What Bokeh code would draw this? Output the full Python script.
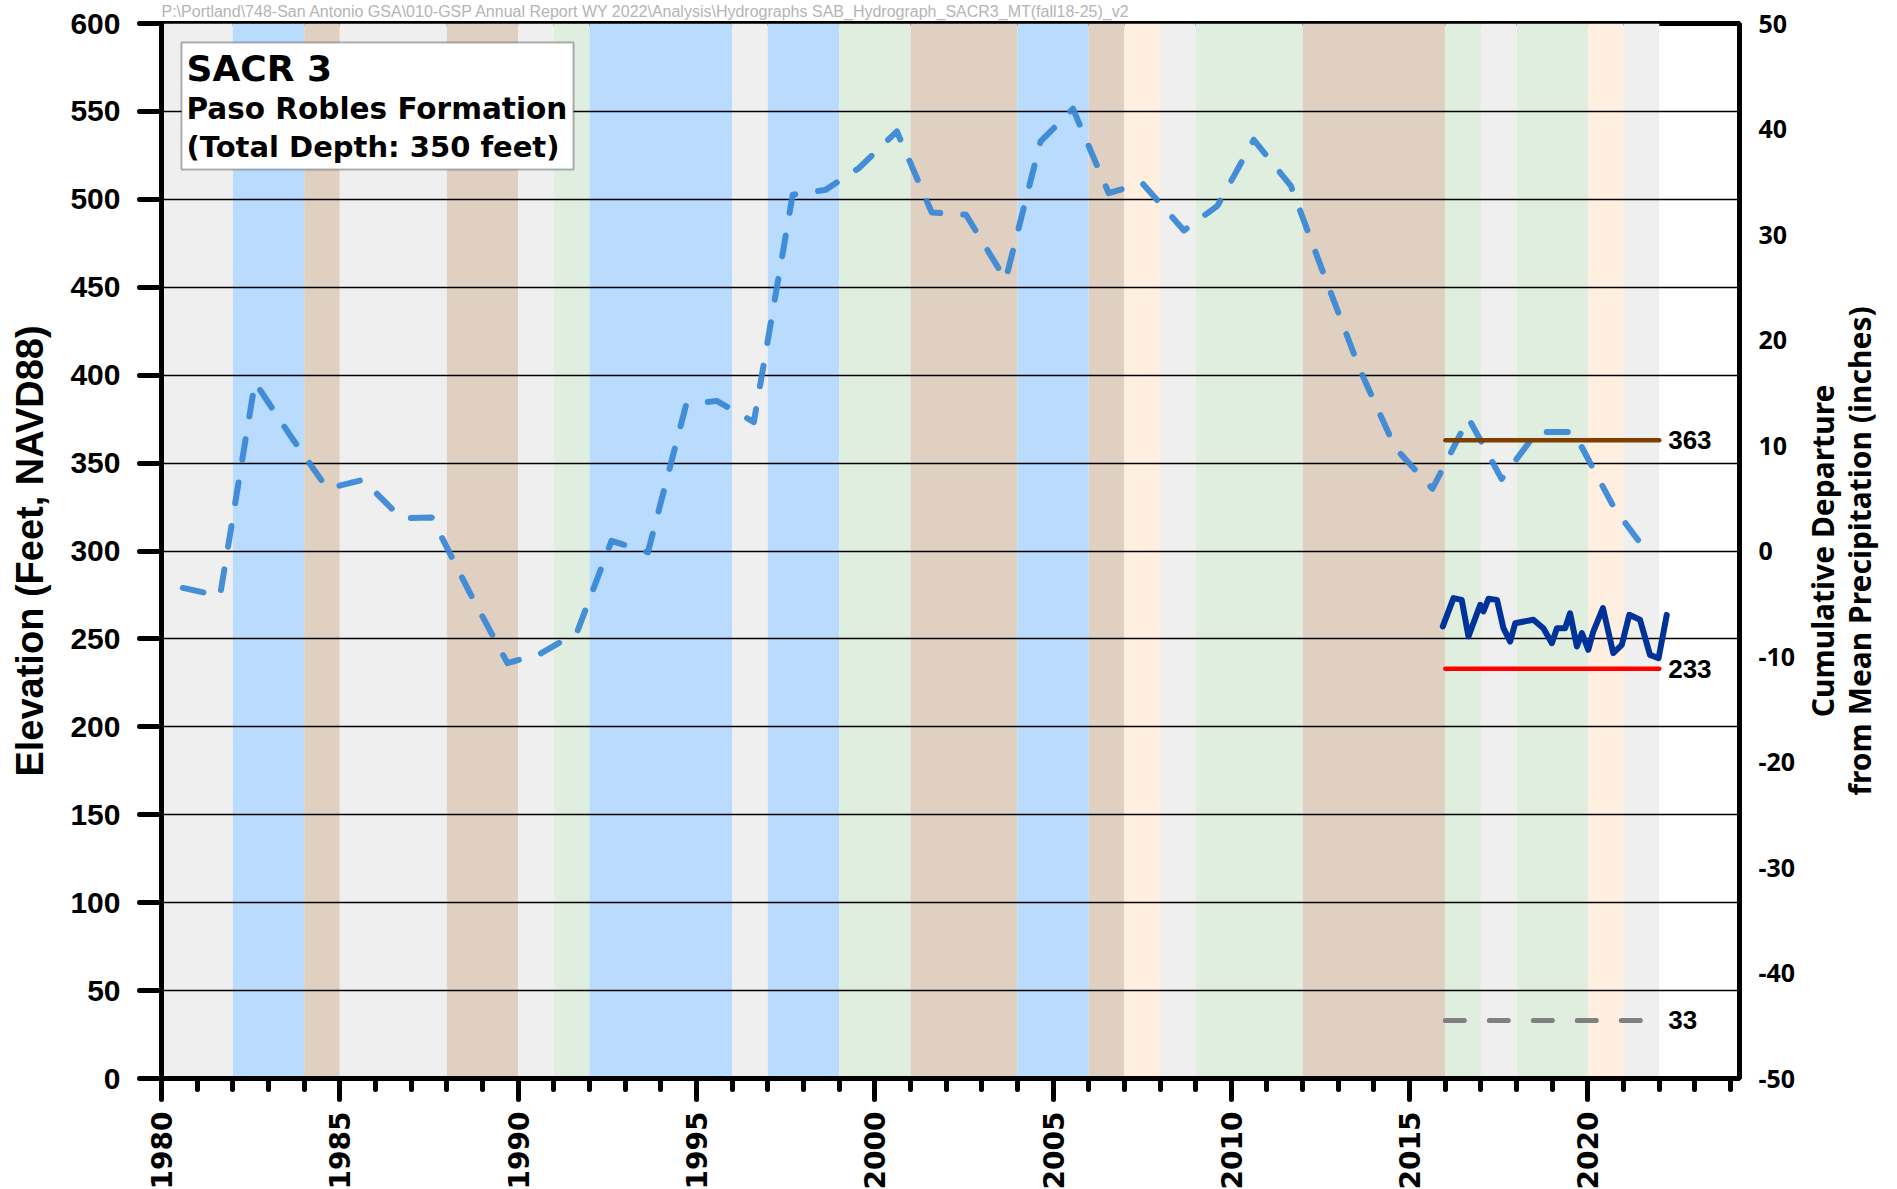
import math
from bokeh.plotting import figure
from bokeh.layouts import row
from bokeh.models import (Range1d, LinearAxis, SingleIntervalTicker, BoxAnnotation, Label, Title,
                          PrintfTickFormatter, FixedTicker)
from bokeh.core.properties import value
from bokeh.embed import file_html
from bokeh.resources import INLINE

# ---------------- data ----------------
# water-year type background bands
band_start = [1980, 1982, 1984, 1985, 1988, 1990, 1991, 1992, 1996, 1997, 1999, 2001,
              2004, 2006, 2007, 2008, 2009, 2012, 2016, 2017, 2018, 2020, 2021]
band_end = [1982, 1984, 1985, 1988, 1990, 1991, 1992, 1996, 1997, 1999, 2001, 2004,
            2006, 2007, 2008, 2009, 2012, 2016, 2017, 2018, 2020, 2021, 2022]
band_type = ["below", "wet", "dry", "below", "dry", "below", "above", "wet", "below", "wet",
             "above", "dry", "wet", "dry", "critical", "below", "above", "dry", "above",
             "below", "above", "critical", "below"]

# cumulative departure from mean precipitation (inches, right axis)
cd_years = [1980.60, 1981.64, 1982.62, 1983.60, 1984.65, 1985.65, 1986.72, 1987.58, 1988.60,
            1989.70, 1990.60, 1991.65, 1992.62, 1993.64, 1994.71, 1995.57, 1996.61, 1997.70,
            1998.62, 1999.55, 2000.62, 2001.60, 2002.56, 2003.67, 2004.65, 2005.56, 2006.56,
            2007.50, 2008.67, 2009.61, 2010.63, 2011.67, 2012.60, 2013.60, 2014.60, 2015.64,
            2016.65, 2017.58, 2018.57, 2019.60, 2020.75, 2021.45]
cd_inches = [-3.5, -4.27, 16.0, 11.0, 5.9, 6.75, 3.12, 3.17, -3.67,
             -10.63, -9.78, -7.73, 0.97, -0.12, 13.85, 14.23, 12.22, 33.77,
             34.23, 36.28, 39.77, 32.08, 31.87, 25.7, 38.82, 41.92, 33.92,
             34.87, 30.38, 32.72, 38.98, 34.6, 26.17, 17.23, 9.75, 5.9,
             12.58, 6.83, 11.28, 11.28, 4.0, 0.83]

# measured groundwater elevation (feet NAVD88)
gw_years = [2015.93, 2016.23, 2016.46, 2016.65, 2016.98, 2017.07, 2017.21, 2017.45, 2017.63,
            2017.82, 2017.96, 2018.47, 2018.75, 2018.99, 2019.13, 2019.36, 2019.50, 2019.69,
            2019.83, 2020.01, 2020.15, 2020.42, 2020.71, 2020.95, 2021.16, 2021.46, 2021.74,
            2021.98, 2022.21]
gw_elev = [257.1, 273.2, 272.2, 251.4, 269.4, 265.6, 272.8, 272.2, 256.1,
           248.5, 258.9, 260.9, 256.1, 247.6, 256.1, 256.1, 264.6, 245.7,
           253.3, 243.8, 254.2, 267.5, 241.9, 246.6, 263.7, 260.9, 240.9,
           239.0, 263.7]

# thresholds (feet) shown for 2016-2022
threshold_values = [363, 233, 33]
threshold_start = [2016, 2016, 2016]
threshold_end = [2022, 2022, 2022]
threshold_labels = ["363", "233", "33"]

title_lines = ["SACR 3", "Paso Robles Formation", "(Total Depth: 350 feet)"]
path_text = ("P:\\Portland\\748-San Antonio GSA\\010-GSP Annual Report WY 2022\\Analysis\\"
             "Hydrographs SAB_Hydrograph_SACR3_MT(fall18-25)_v2")
right_title = "Cumulative Departure\nfrom Mean Precipitation (inches)"

# ---------------- layout ----------------
X_START, X_END = 1980, 2024.25
Y_START, Y_END = 0, 600
P_START, P_END = -50, 50
FRAME_W, FRAME_H = 1578, 1055
BORDER_L, BORDER_R, BORDER_T, BORDER_B = 161, 58, 22, 110
PAGE_MARGIN = 0


def page_x(px):
    return X_START + (px - PAGE_MARGIN - BORDER_L) * (X_END - X_START) / FRAME_W


def page_y(py):
    return Y_END - (py - PAGE_MARGIN - BORDER_T) * (Y_END - Y_START) / FRAME_H


band_colors = {"below": "#EFEFEF", "wet": "#B9DBFE", "dry": "#E0D0C1",
               "above": "#E0EEE0", "critical": "#FFEFE0"}

p = figure(frame_width=FRAME_W, frame_height=FRAME_H,
           x_range=Range1d(X_START, X_END), y_range=Range1d(Y_START, Y_END),
           output_backend="svg", toolbar_location=None,
           min_border_left=BORDER_L, min_border_right=BORDER_R,
           min_border_top=BORDER_T, min_border_bottom=BORDER_B)
p.extra_y_ranges = {"precip": Range1d(P_START, P_END)}
p.background_fill_color = "white"
p.border_fill_color = "white"
p.outline_line_color = "black"
p.outline_line_width = 5

# header path as a title above the frame
p.add_layout(Title(text=path_text, align="left", vertical_align="top", text_font="Liberation Sans",
                   text_font_style="normal", text_font_size="16px", text_color="#B4B4B4",
                   standoff=4, offset=0), "above")

# bands
p.quad(left=band_start, right=band_end, bottom=Y_START, top=Y_END,
       fill_color=[band_colors[t] for t in band_type], line_color=None, level="image")

# grid
ytick = SingleIntervalTicker(interval=50, num_minor_ticks=0)
p.ygrid.ticker = ytick
p.ygrid.grid_line_color = "black"
p.ygrid.grid_line_width = 1.6
p.xgrid.visible = False

# cumulative departure (dashed)
p.line(cd_years, cd_inches, y_range_name="precip", line_color="#3685D6", line_alpha=0.92,
       line_width=6, line_dash="21 23", line_cap="round", line_join="round")

# thresholds
p.segment(x0=threshold_start[:1], x1=threshold_end[:1], y0=threshold_values[:1], y1=threshold_values[:1],
          line_color="#7F3F00", line_width=4.5, line_cap="round")
p.segment(x0=threshold_start[1:2], x1=threshold_end[1:2], y0=threshold_values[1:2], y1=threshold_values[1:2],
          line_color="#FF0000", line_width=4.5, line_cap="round")
p.segment(x0=threshold_start[2:], x1=threshold_end[2:], y0=threshold_values[2:], y1=threshold_values[2:],
          line_color="#808080", line_width=5, line_cap="round", line_dash="19 25")

# measured groundwater
p.line(gw_years, gw_elev, line_color="#003399", line_width=6, line_join="round", line_cap="round")

# threshold labels
p.text(x=[t + 0.25 for t in threshold_end], y=threshold_values, text=threshold_labels,
       text_font=value("Liberation Sans"), text_font_style="bold", text_font_size="26px",
       text_baseline="middle", text_align="left", text_color="black")

# axes
xa = p.xaxis[0]
xa.ticker = SingleIntervalTicker(interval=5, num_minor_ticks=5)
xa.major_tick_out = 21
xa.major_tick_in = 0
xa.minor_tick_out = 11
xa.minor_tick_in = 0
xa.major_tick_line_width = 5
xa.minor_tick_line_width = 5
xa.major_tick_line_cap = "round"
xa.minor_tick_line_cap = "round"
xa.axis_line_width = 5
xa.major_label_orientation = math.pi / 2
xa.major_label_text_font = "DejaVu Sans"
xa.major_label_text_font_style = "bold"
xa.major_label_text_font_size = "28px"
xa.major_label_text_color = "black"
xa.major_label_standoff = 12

ya = p.yaxis[0]
ya.ticker = ytick
ya.major_tick_out = 22
ya.major_tick_in = 0
ya.minor_tick_out = 0
ya.minor_tick_in = 0
ya.major_tick_line_width = 5
ya.major_tick_line_cap = "round"
ya.axis_line_width = 5
ya.major_label_text_font = "Liberation Sans"
ya.major_label_text_font_style = "bold"
ya.major_label_text_font_size = "30px"
ya.major_label_text_color = "black"
ya.major_label_standoff = 19
ya.axis_label = "Elevation (Feet, NAVD88)"
ya.axis_label_text_font = "Liberation Sans"
ya.axis_label_text_font_style = "bold"
ya.axis_label_text_font_size = "38px"
ya.axis_label_text_color = "black"
ya.axis_label_standoff = 16

ra = LinearAxis(y_range_name="precip", ticker=SingleIntervalTicker(interval=10, num_minor_ticks=0),
                formatter=PrintfTickFormatter(format="%d"))
ra.major_tick_out = 0
ra.major_tick_in = 0
ra.minor_tick_out = 0
ra.minor_tick_in = 0
ra.axis_line_width = 5
ra.major_label_text_font = "Noto Sans"
ra.major_label_text_font_style = "bold"
ra.major_label_text_font_size = "25px"
ra.major_label_text_color = "black"
ra.major_label_standoff = 19
p.add_layout(ra, "right")

# well title box
p.add_layout(BoxAnnotation(left=page_x(181), right=page_x(573), top=page_y(41), bottom=page_y(168),
                           fill_color="white", fill_alpha=1.0, line_color="black", line_width=2))
for line_text, py, fs in zip(title_lines, [67, 107, 145], ["36px", "29.5px", "29px"]):
    p.add_layout(Label(x=page_x(186), y=page_y(py), text=line_text, text_font="DejaVu Sans",
                       text_font_style="bold", text_font_size=fs, text_color="black",
                       text_baseline="alphabetic", text_align="left"))

# right-hand title: a narrow companion figure whose (left) axis label reads bottom-to-top
t = figure(frame_width=1, frame_height=FRAME_H, x_range=Range1d(0, 1),
           y_range=Range1d(P_START, P_END), output_backend="svg", toolbar_location=None,
           min_border_left=84, min_border_right=0, min_border_top=BORDER_T,
           min_border_bottom=BORDER_B)
t.outline_line_color = None
t.background_fill_color = "white"
t.border_fill_color = "white"
t.xaxis.visible = False
t.xgrid.visible = False
t.ygrid.visible = False
ta = t.yaxis[0]
ta.ticker = FixedTicker(ticks=[])
ta.axis_line_color = None
ta.major_tick_out = 0
ta.major_tick_in = 0
ta.minor_tick_out = 0
ta.minor_tick_in = 0
ta.axis_label = right_title
ta.axis_label_text_font = "Noto Sans"
ta.axis_label_text_font_style = "bold"
ta.axis_label_text_font_size = "30px"
ta.axis_label_text_color = "black"
ta.axis_label_text_line_height = 0.9
ta.axis_label_standoff = 9

layout = row(p, t)
open("out.html", "w").write(file_html(layout, INLINE))
